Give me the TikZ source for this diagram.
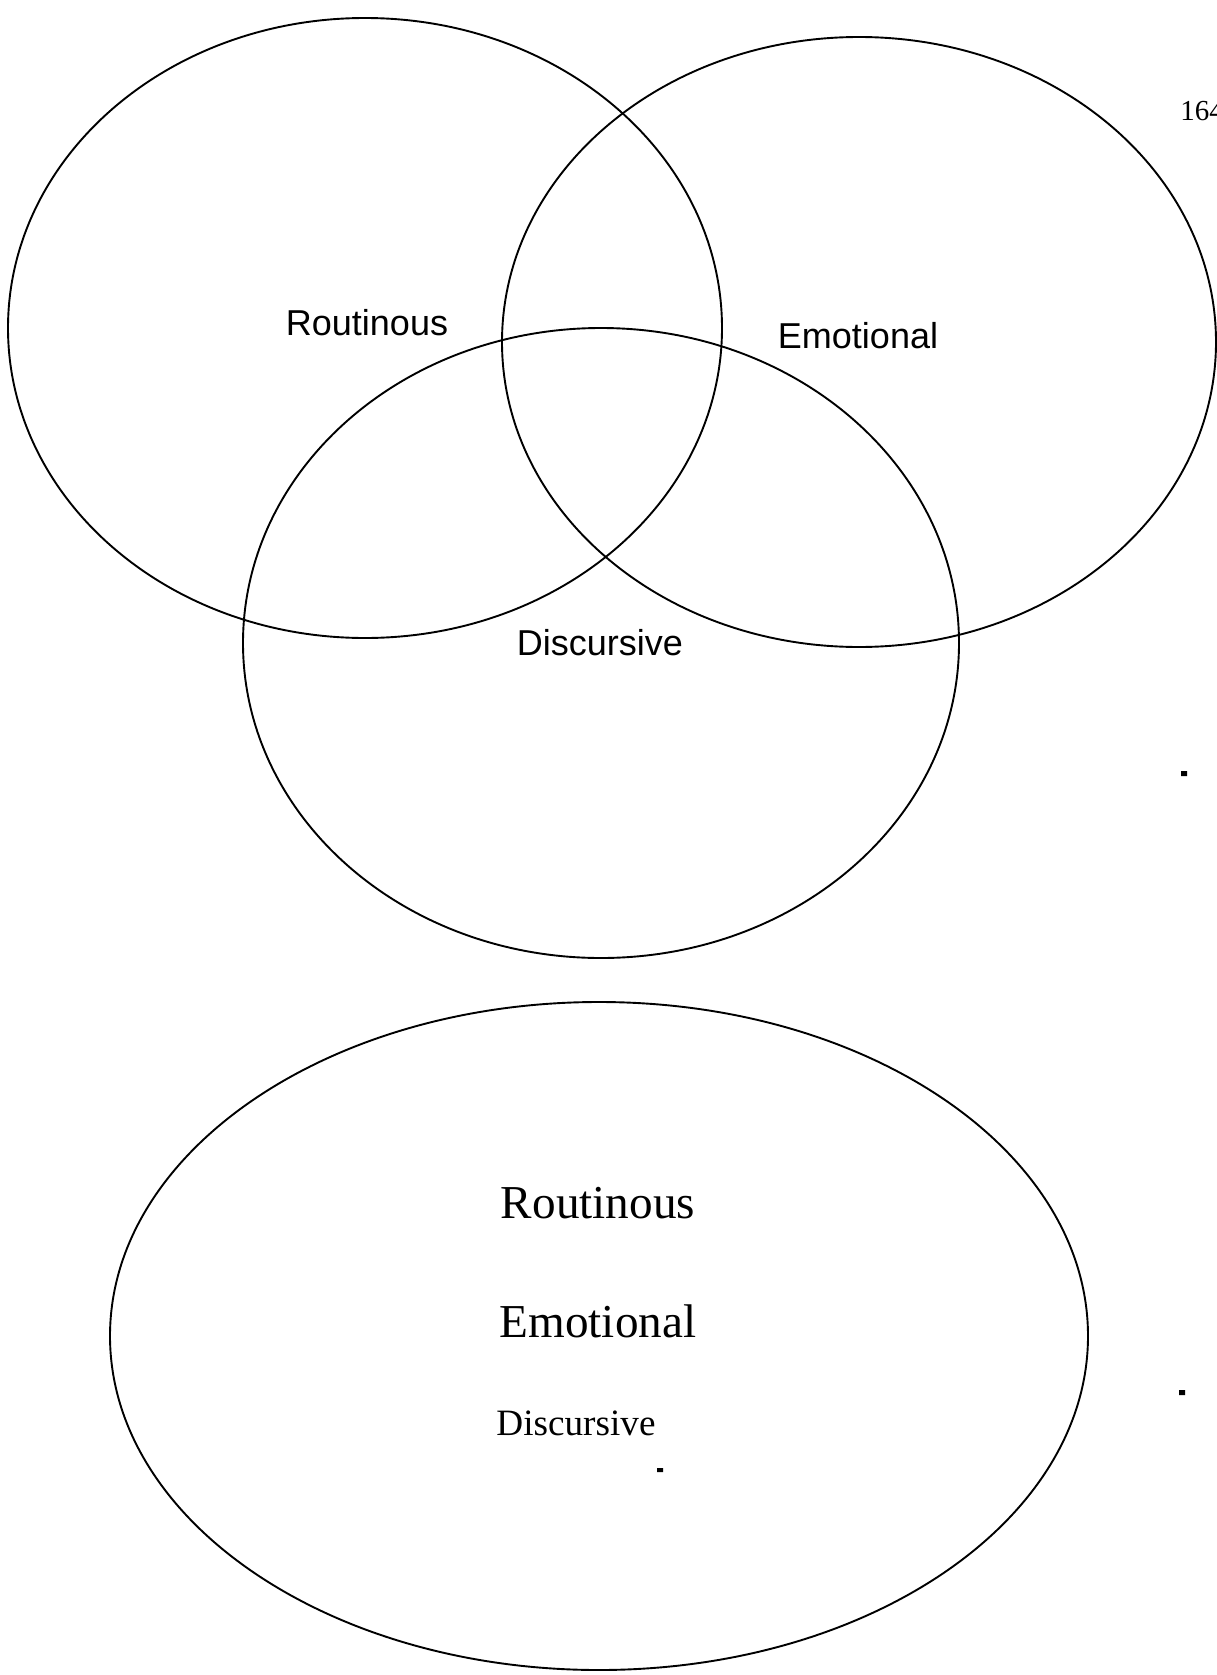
\documentclass[tikz,border=0pt]{standalone}
\usepackage{fontspec}
\setmainfont{Liberation Serif}
\newfontfamily\arialfont{Liberation Sans}
\tikzset{
	venn/.style={line width=0.95pt},
	sanslabel/.style={font=\arialfont\fontsize{18}{20}\selectfont},
	bigserif/.style={font=\fontsize{23.6}{26}\selectfont},
	smallserif/.style={font=\fontsize{18.6}{21}\selectfont},
	speck/.style={fill=black}
}
\begin{document}
\begin{tikzpicture}[x=0.5pt,y=-0.5pt]
				\useasboundingbox (0,0) rectangle (1216,1675);
				% three overlapping sets
				\draw[venn] (365,328) ellipse (357 and 310);
				\draw[venn] (859,342) ellipse (357 and 305);
				\draw[venn] (601,643) ellipse (358 and 315);
				\node[sanslabel] (routA) at (367,323) {Routinous};
				\node[sanslabel] (emotA) at (858,336) {Emotional};
				\node[sanslabel] (discA) at (600,643) {Discursive};

				% one set holding all three
				\draw[venn] (599,1336) ellipse (489 and 334);
				\node[bigserif] (routB) at (598,1203) {Routinous};
				\node[bigserif] (emotB) at (598,1321) {Emotional};
				\node[smallserif] (discB) at (576,1423) {Discursive};

				\node[anchor=west,font=\fontsize{14.5}{16}\selectfont,inner sep=0pt] (page) at (1180,111) {164};
				\fill[speck] (1181,771) rectangle (1187,776) (1179,1390) rectangle (1185,1395) (657,1468) rectangle (663,1472);
			\end{tikzpicture}
\end{document}
